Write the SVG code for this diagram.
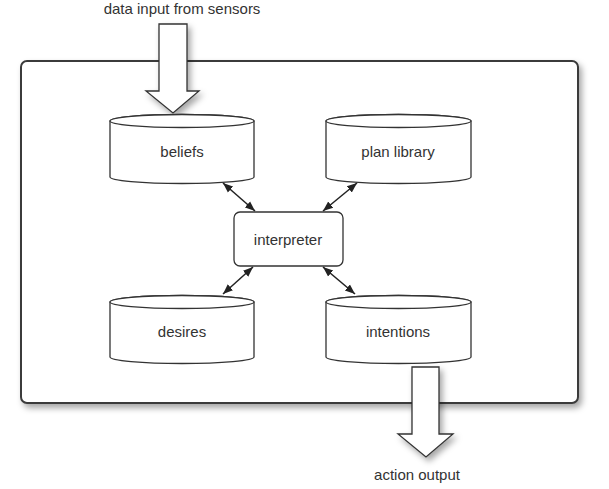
<svg xmlns="http://www.w3.org/2000/svg" width="609" height="489" viewBox="0 0 609 489">
<style>
  text { font-family: "Liberation Sans", Arial, sans-serif; font-size: 15px; fill: #333; text-anchor: middle; }
  .cyl { fill: #fff; stroke: #333; stroke-width: 1.3; }
  .box { fill: #fff; stroke: #333; stroke-width: 1.3; }
  .big { fill: #fff; stroke: #333; stroke-width: 1.3; filter: url(#sh); }
  .outer { fill: #fff; stroke: #3a3a3a; stroke-width: 2; filter: url(#sh); }
  .conn { stroke: #222; stroke-width: 1.5; fill: none; marker-start: url(#ah); marker-end: url(#ah); }
</style>
<defs>
  <filter id="sh" x="-10%" y="-10%" width="130%" height="130%">
    <feDropShadow dx="3" dy="4" stdDeviation="3" flood-color="#000" flood-opacity="0.35"/>
  </filter>
  <marker id="ah" viewBox="0 0 10 10" refX="10" refY="5" markerWidth="10" markerHeight="10" orient="auto-start-reverse" markerUnits="userSpaceOnUse">
    <path d="M0,1 L10,5 L0,9 z" fill="#222"/>
  </marker>
</defs>
<rect width="609" height="489" fill="#fff"/>

<g id="container">
  <rect class="outer" x="21" y="61" width="557" height="342" rx="6" ry="6"/>
</g>

<g id="input">
  <text x="182" y="14">data input from sensors</text>
  <path class="big" d="M159,24 L187,24 L187,91 L199,91 L173,113 L146,91 L159,91 Z"/>
</g>

<g id="beliefs">
  <path class="cyl" d="M110,121 L110,177 A72,6.5 0 0 0 254,177 L254,121 A72,6.5 0 0 0 110,121 Z"/>
  <ellipse class="cyl" cx="182" cy="121" rx="72" ry="6.5"/>
  <text x="182" y="157">beliefs</text>
</g>

<g id="plan-library">
  <path class="cyl" d="M326,121 L326,177 A72.5,6.5 0 0 0 471,177 L471,121 A72.5,6.5 0 0 0 326,121 Z"/>
  <ellipse class="cyl" cx="398.5" cy="121" rx="72.5" ry="6.5"/>
  <text x="398" y="157">plan library</text>
</g>

<g id="interpreter">
  <rect class="box" x="234" y="212" width="109" height="54" rx="6" ry="6"/>
  <text x="288" y="245">interpreter</text>
</g>

<g id="desires">
  <path class="cyl" d="M110,302 L110,357 A72,6.5 0 0 0 254,357 L254,302 A72,6.5 0 0 0 110,302 Z"/>
  <ellipse class="cyl" cx="182" cy="302" rx="72" ry="6.5"/>
  <text x="182" y="337">desires</text>
</g>

<g id="intentions">
  <path class="cyl" d="M326,302 L326,357 A72.5,6.5 0 0 0 471,357 L471,302 A72.5,6.5 0 0 0 326,302 Z"/>
  <ellipse class="cyl" cx="398.5" cy="302" rx="72.5" ry="6.5"/>
  <text x="398" y="337">intentions</text>
</g>

<g id="output">
  <path class="big" d="M412,367 L439,367 L439,434 L453,434 L426,457 L398,434 L412,434 Z"/>
  <text x="417" y="480">action output</text>
</g>

<g id="connectors">
  <line class="conn" x1="223" y1="183" x2="255" y2="211"/>
  <line class="conn" x1="357" y1="183" x2="323" y2="211"/>
  <line class="conn" x1="253" y1="267" x2="223" y2="294"/>
  <line class="conn" x1="323" y1="267" x2="355" y2="294"/>
</g>
</svg>
